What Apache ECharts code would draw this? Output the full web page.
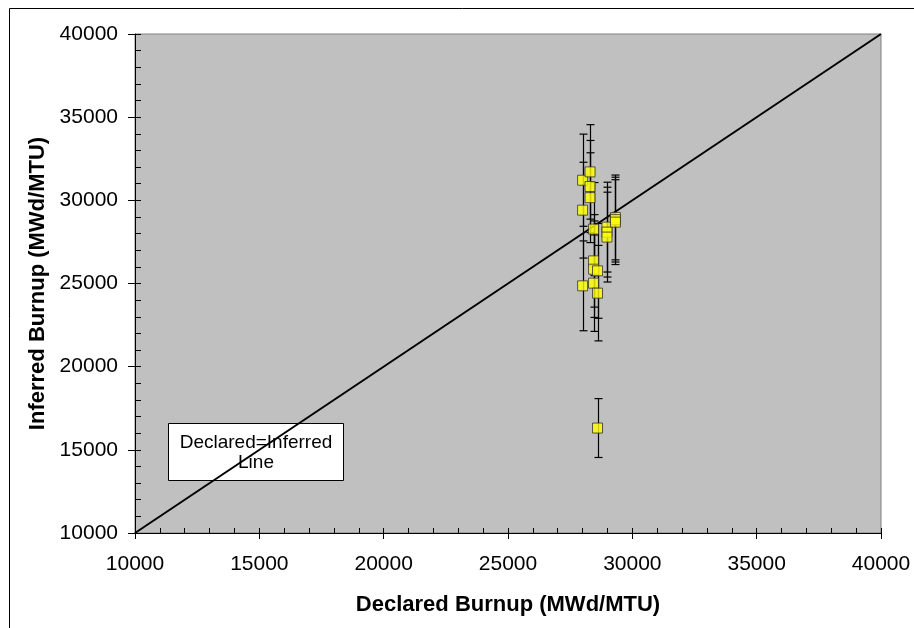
<!DOCTYPE html>
<html>
<head>
<meta charset="utf-8">
<title>Declared vs Inferred Burnup</title>
<script src="https://cdn.jsdelivr.net/npm/echarts@6/dist/echarts.min.js"></script>
<style>
  html, body { margin: 0; padding: 0; background: #fff; }
  #main { width: 914px; height: 628px; }
</style>
</head>
<body>
<div id="main"></div>
<script>
// 数据：申报燃耗 / 推断燃耗 / 误差
var declared = [28000, 28000, 28000, 28300, 28300, 28300, 28440, 28440, 28440, 28600,
                28440, 28600, 28600, 28980, 28980, 28980, 29320, 29320, 29320];
var inferred = [31210, 29410, 24860, 31710, 30830, 30160, 28270, 26360, 25860, 25760,
                25020, 24420, 16310, 28390, 28090, 27790, 28970, 28840, 28690];
var errors   = [2770, 2880, 2700, 2840, 2770, 2700, 2800, 2780, 2900, 2850,
                2900, 2870, 1770, 2700, 2700, 2700, 2550, 2550, 2550];
var diagLine = [10000, 40000];

var font = 'Arial, "Liberation Sans", sans-serif';

var myChart = echarts.init(document.getElementById('main'));

var points = [];
var bars = [];
for (var i = 0; i < declared.length; i++) {
    points.push([declared[i], inferred[i]]);
    bars.push([declared[i], inferred[i] - errors[i], inferred[i] + errors[i]]);
}

// 刻度文字不加千分位
function plain(v) { return String(v); }

var option = {
    backgroundColor: '#fff',
    animation: false,
    grid: {
        left: 135, top: 34, right: 33, bottom: 95,
        show: true,
        backgroundColor: '#C0C0C0',
        borderColor: '#808080',
        borderWidth: 1
    },
    xAxis: [{
        type: 'value', min: 10000, max: 40000, interval: 5000,
        position: 'bottom',
        name: 'Declared Burnup (MWd/MTU)',
        nameLocation: 'middle', nameGap: 61,
        nameTextStyle: { fontFamily: font, fontSize: 22, fontWeight: 'bold', color: '#000' },
        axisLine: { lineStyle: { color: '#000', width: 1 } },
        axisTick: { show: true, length: 6, lineStyle: { color: '#000' } },
        axisLabel: { fontFamily: font, fontSize: 21, color: '#000', margin: 21, formatter: plain },
        splitLine: { show: false }
    }, {
        type: 'value', min: 10000, max: 40000, interval: 1000,
        position: 'bottom',
        axisLine: { show: false },
        axisTick: { show: true, inside: true, length: 5, lineStyle: { color: '#000' } },
        axisLabel: { show: false },
        splitLine: { show: false }
    }],
    yAxis: [{
        type: 'value', min: 10000, max: 40000, interval: 5000,
        position: 'left',
        name: 'Inferred Burnup (MWd/MTU)',
        nameLocation: 'middle', nameGap: 86,
        nameTextStyle: { fontFamily: font, fontSize: 22, fontWeight: 'bold', color: '#000' },
        axisLine: { show: true, lineStyle: { color: '#000', width: 1 } },
        axisTick: { show: true, length: 7, lineStyle: { color: '#000' } },
        axisLabel: { fontFamily: font, fontSize: 21, color: '#000', margin: 17, formatter: plain },
        splitLine: { show: false }
    }, {
        type: 'value', min: 10000, max: 40000, interval: 1000,
        position: 'left',
        axisLine: { show: false },
        axisTick: { show: true, inside: true, length: 6, lineStyle: { color: '#000' } },
        axisLabel: { show: false },
        splitLine: { show: false }
    }],
    graphic: [
        // 外框
        {
            type: 'rect', left: 7, top: 6, silent: true, z: 100,
            shape: { width: 1000, height: 1000 },
            style: { fill: 'none', stroke: '#000', lineWidth: 1 }
        },
        // 说明框
        {
            type: 'group', left: 168, top: 423, z: 100,
            children: [{
                type: 'rect',
                shape: { x: 0, y: 0, width: 175, height: 57 },
                style: { fill: '#fff', stroke: '#000', lineWidth: 1 }
            }, {
                type: 'text', x: 87.5, y: 19,
                style: { text: 'Declared=Inferred', fill: '#000', font: '19px ' + font,
                         textAlign: 'center', textVerticalAlign: 'middle' }
            }, {
                type: 'text', x: 87.5, y: 39,
                style: { text: 'Line', fill: '#000', font: '19px ' + font,
                         textAlign: 'center', textVerticalAlign: 'middle' }
            }]
        }
    ],
    series: [
        {
            name: 'Declared=Inferred',
            type: 'line',
            xAxisIndex: 0, yAxisIndex: 0,
            data: [[diagLine[0], diagLine[0]], [diagLine[1], diagLine[1]]],
            symbol: 'none',
            lineStyle: { color: '#000', width: 2 },
            silent: true,
            z: 2
        },
        {
            name: 'error',
            type: 'custom',
            xAxisIndex: 0, yAxisIndex: 0,
            data: bars,
            z: 3,
            renderItem: function (params, api) {
                var x = api.value(0);
                var lo = api.coord([x, api.value(1)]);
                var hi = api.coord([x, api.value(2)]);
                var px = Math.round(lo[0]) + 0.5;
                var w = 4;
                var st = { stroke: '#000', lineWidth: 1.2 };
                return {
                    type: 'group',
                    children: [
                        { type: 'line', shape: { x1: px, y1: hi[1], x2: px, y2: lo[1] }, style: st },
                        { type: 'line', shape: { x1: px - w, y1: hi[1], x2: px + w, y2: hi[1] }, style: st },
                        { type: 'line', shape: { x1: px - w, y1: lo[1], x2: px + w, y2: lo[1] }, style: st }
                    ]
                };
            }
        },
        {
            name: 'data',
            type: 'scatter',
            xAxisIndex: 0, yAxisIndex: 0,
            data: points,
            symbol: 'rect',
            symbolSize: 10,
            itemStyle: { color: '#FFFF00', borderColor: '#333', borderWidth: 1 },
            z: 4
        }
    ]
};

myChart.setOption(option);
</script>
</body>
</html>
